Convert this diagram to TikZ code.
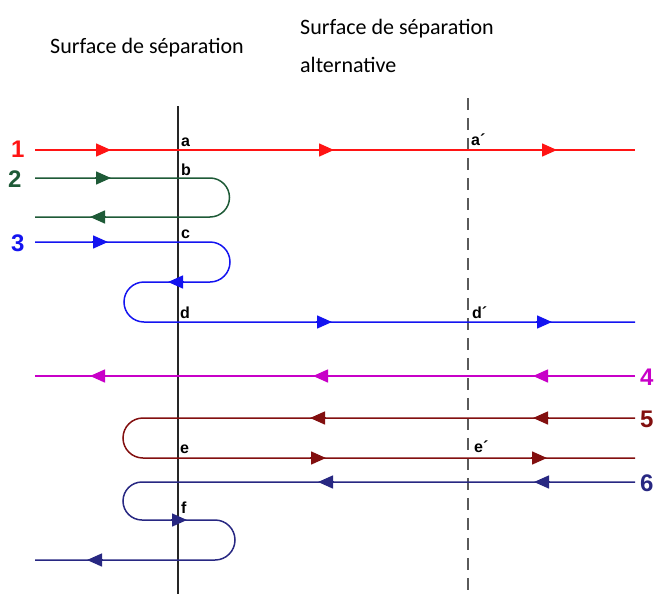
\documentclass[tikz,border=0pt]{standalone}
\usepackage{fontspec}
\setmainfont{Liberation Sans}
\newfontfamily\calib{Carlito}
\usetikzlibrary{arrows.meta}
\definecolor{cred}{RGB}{255,20,20}
\definecolor{cgreen}{RGB}{30,90,55}
\definecolor{cblue}{RGB}{20,20,240}
\definecolor{cmag}{RGB}{200,0,200}
\definecolor{cdred}{RGB}{130,15,15}
\definecolor{cnavy}{RGB}{40,40,130}
\definecolor{cgray}{RGB}{90,90,90}
\tikzset{
  ray/.style={line width=1.5pt},
  tipR/.style={-{Triangle[length=15pt,width=13pt]}},
  ptlabel/.style={font=\fontsize{16}{16}\selectfont\bfseries, inner sep=0pt, anchor=base west},
  num/.style={font=\fontsize{24}{24}\selectfont\bfseries, inner sep=0pt, anchor=base west},
  ttl/.style={font=\calib\fontsize{22}{37}\selectfont, inner sep=0pt, anchor=base west, align=left},
}
\newcommand{\harrow}[4]{\draw[ray,#1,tipR] (#2,#4) -- (#3,#4);}
\begin{document}
\begin{tikzpicture}[x=1pt,y=-1pt]
\useasboundingbox (0,0) rectangle (655,594);
% titles
\node[ttl] (t1) at (50,53) {Surface de séparation};
\node[ttl] (t2) at (300,72) {Surface de séparation\\alternative};
% surfaces
\draw[line width=1.1pt, black!85] (178,106) -- (178,594);
\draw[line width=2pt, cgray, dash pattern=on 12pt off 8pt] (468,98) -- (468,594);
% ray 1
\draw[ray,cred] (35,150) -- (635,150);
\harrow{cred}{95}{111}{150}\harrow{cred}{318}{334}{150}\harrow{cred}{541}{557}{150}
\node[num,text=cred] (n1) at (11,157) {1};
% ray 2
\draw[ray,cgreen] (35,178) -- (210,178) arc[start angle=-90,end angle=90,radius=19.5] -- (35,217);
\harrow{cgreen}{95}{111}{178}\harrow{cgreen}{106}{90}{217}
\node[num,text=cgreen] (n2) at (8,187) {2};
% ray 3
\draw[ray,cblue] (35,242) -- (210,242) arc[start angle=-90,end angle=90,radius=20] -- (144,282)
  arc[start angle=270,end angle=90,radius=20] -- (635,322);
\harrow{cblue}{92}{108}{242}\harrow{cblue}{184}{168}{282}
\harrow{cblue}{316}{332}{322}\harrow{cblue}{536}{552}{322}
\node[num,text=cblue] (n3) at (11,251) {3};
% ray 4
\draw[ray,cmag] (635,376) -- (35,376);
\harrow{cmag}{106}{90}{376}\harrow{cmag}{329}{313}{376}\harrow{cmag}{549}{533}{376}
\node[num,text=cmag] (n4) at (640,385) {4};
% ray 5
\draw[ray,cdred] (635,418) -- (143,418) arc[start angle=270,end angle=90,radius=20] -- (635,458);
\harrow{cdred}{326}{310}{418}\harrow{cdred}{549}{533}{418}
\harrow{cdred}{310}{326}{458}\harrow{cdred}{531}{547}{458}
\node[num,text=cdred] (n5) at (640,427) {5};
% ray 6
\draw[ray,cnavy] (635,482) -- (142,482) arc[start angle=270,end angle=90,radius=19] -- (215,520)
  arc[start angle=-90,end angle=90,radius=20] -- (35,560);
\harrow{cnavy}{334}{318}{482}\harrow{cnavy}{550}{534}{482}
\harrow{cnavy}{171}{187}{520}\harrow{cnavy}{103}{87}{560}
\node[num,text=cnavy] (n6) at (640,491) {6};
% point labels
\node[ptlabel] (la) at (181,146) {a};
\node[ptlabel] (lb) at (181,175) {b};
\node[ptlabel] (lc) at (181,238) {c};
\node[ptlabel] (ld) at (180,318) {d};
\node[ptlabel] (le) at (180,453) {e};
\node[ptlabel] (lf) at (181,513) {f};
\node[ptlabel] (la2) at (471,145) {a´};
\node[ptlabel] (ld2) at (472,318) {d´};
\node[ptlabel] (le2) at (474,452) {e´};
\end{tikzpicture}
\end{document}
